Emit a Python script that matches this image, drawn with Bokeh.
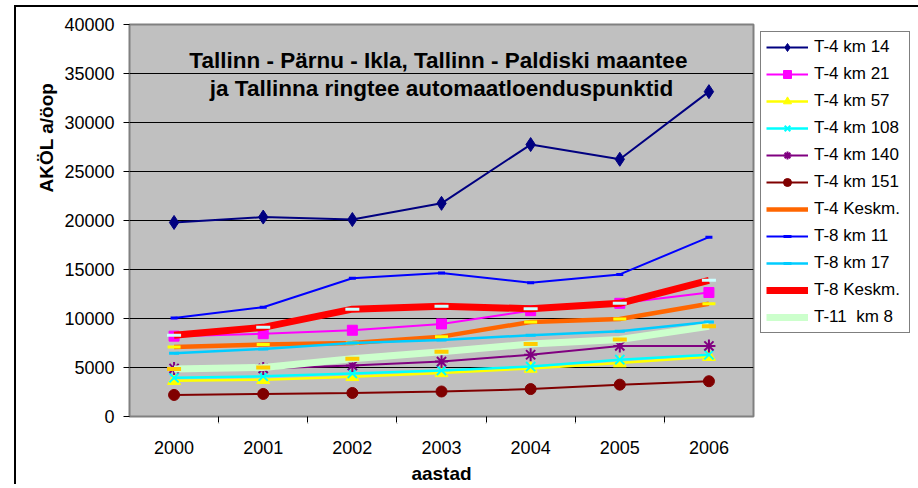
from bokeh.plotting import figure
from bokeh.embed import file_html
from bokeh.resources import INLINE
from bokeh.models import (FactorRange, Range1d, CategoricalAxis, FixedTicker,
                          Legend, LegendItem, Label, Title, ColumnDataSource)

# ---------------- data ----------------
years = ["2000", "2001", "2002", "2003", "2004", "2005", "2006"]

t4_km14 = [19800, 20350, 20100, 21750, 27750, 26250, 33150]
t4_km21 = [8200, 8450, 8800, 9450, 10800, 11550, 12650]
t4_km57 = [3650, 3750, 4050, 4450, 4900, 5450, 6100]
t4_km108 = [3950, 4100, 4400, 4700, 5100, 5800, 6300]
t4_km140 = [4900, 4900, 5200, 5600, 6300, 7200, 7200]
t4_km151 = [2200, 2300, 2400, 2550, 2800, 3250, 3600]
t4_keskm = [7100, 7350, 7500, 8150, 9650, 9950, 11500]
t8_km11 = [10050, 11150, 14100, 14650, 13650, 14500, 18300]
t8_km17 = [6450, 6900, 7500, 7800, 8300, 8700, 9650]
t8_keskm = [8300, 9100, 10950, 11250, 11000, 11550, 13900]
t11_km8 = [4850, 5000, 5900, 6600, 7400, 7850, 9200]

series_names = ["T-4 km 14", "T-4 km 21", "T-4 km 57", "T-4 km 108", "T-4 km 140",
                "T-4 km 151", "T-4 Keskm.", "T-8 km 11", "T-8 km 17", "T-8 Keskm.",
                "T-11  km 8"]

y_ticks = [0, 5000, 10000, 15000, 20000, 25000, 30000, 35000, 40000]
title_line1 = "Tallinn - Pärnu - Ikla,  Tallinn - Paldiski maantee"
title_line2 = "ja Tallinna ringtee automaatloenduspunktid"
y_title = "AKÖL a/öop"
x_title = "aastad"

FONT = "Liberation Sans"

# ---------------- figure ----------------
p = figure(x_range=FactorRange(*years), y_range=Range1d(0, 40000),
           frame_width=624, frame_height=392, output_backend="svg", toolbar_location=None,
           x_axis_location=None,
           min_border_left=113, min_border_right=0, min_border_top=17, min_border_bottom=64,
           margin=(7, 0, 0, 16))
p.styles = {"box-shadow": "-2px -2px 0px 0px black"}
p.background_fill_color = "#C0C0C0"
p.border_fill_color = "white"
p.outline_line_color = "#808080"
p.outline_line_width = 2

p.xgrid.visible = False
p.ygrid.grid_line_color = "black"
p.ygrid.grid_line_width = 1
p.ygrid.ticker = FixedTicker(ticks=y_ticks)

yax = p.yaxis[0]
yax.ticker = FixedTicker(ticks=y_ticks)
yax.major_label_text_font = FONT
yax.major_label_text_font_size = "18px"
yax.major_label_text_color = "black"
yax.major_tick_out = 6
yax.major_tick_in = 0
yax.minor_tick_out = 0
yax.minor_tick_in = 0
yax.major_label_standoff = 9
yax.axis_line_color = "#808080"
yax.major_tick_line_color = "black"

# y axis title, placed higher than the frame centre as in the reference
p.add_layout(Title(text=y_title, align="left", offset=224, text_font=FONT,
                   text_font_size="19px", text_font_style="bold", text_color="black"), "left")

# boundary tick marks on x: an extra factor range whose factor centres sit on the category edges
edge_factors = ["e%d" % i for i in range(len(years) + 1)]
p.extra_x_ranges = {"edges": FactorRange(*edge_factors, range_padding=-0.5,
                                         range_padding_units="absolute")}
tick_axis = CategoricalAxis(x_range_name="edges",
                            major_label_overrides={f: "" for f in edge_factors},
                            major_label_text_font_size="1px", major_label_standoff=0,
                            major_tick_out=6, major_tick_in=0,
                            axis_line_color="#808080", major_tick_line_color="black")
p.add_layout(tick_axis, "below")

cat_axis = CategoricalAxis(major_tick_line_color=None, major_tick_out=0, major_tick_in=0,
                           axis_line_color=None, major_label_standoff=14,
                           major_label_text_font=FONT, major_label_text_font_size="18px",
                           major_label_text_color="black",
                           axis_label=x_title, axis_label_text_font=FONT,
                           axis_label_text_color="black",
                           axis_label_text_font_size="19px", axis_label_text_font_style="bold",
                           axis_label_standoff=6)
p.add_layout(cat_axis, "below")

# ---------------- series ----------------
styles = [
    dict(data=t4_km14, color="#000080", lw=2, marker="diamond", size=14, mlw=1),
    dict(data=t4_km21, color="#FF00FF", lw=2, marker="square", size=10, mlw=1),
    dict(data=t4_km57, color="#FFFF00", lw=2.5, marker="triangle", size=13, mlw=1),
    dict(data=t4_km108, color="#00FFFF", lw=2.5, marker="x", size=13, mlw=2),
    dict(data=t4_km140, color="#800080", lw=2, marker="asterisk", size=13, mlw=2),
    dict(data=t4_km151, color="#800000", lw=2, marker="circle", size=11, mlw=1),
    dict(data=t4_keskm, color="#FF6600", lw=4.5, marker="dash", size=13, mlw=3, mcolor="#FFFF00", legend_marker=False),
    dict(data=t8_km11, color="#0000FF", lw=2, marker="dash", size=7, mlw=3, mcolor="#0000FF", legend_marker=True),
    dict(data=t8_km17, color="#00CCFF", lw=2.5, marker="dash", size=10, mlw=3, mcolor="#00CCFF", legend_marker=True),
    dict(data=t8_keskm, color="#FF0000", lw=7, marker="dash", size=14, mlw=3, mcolor="#CCFFFF", legend_marker=False),
    dict(data=t11_km8, color="#CCFFCC", lw=7, marker="dash", size=14, mlw=4, mcolor="#FFCC00", legend_marker=False),
]

items = []
for name, st in zip(series_names, styles):
    src = ColumnDataSource(dict(x=years, y=st["data"]))
    lr = p.line("x", "y", source=src, line_color=st["color"], line_width=st["lw"])
    mcol = st.get("mcolor", st["color"])
    mr = p.scatter("x", "y", source=src, marker=st["marker"], size=st["size"],
                   fill_color=mcol, line_color=mcol, line_width=st["mlw"])
    rends = [lr]
    if st.get("legend_marker", True):
        rends.append(mr)
    items.append(LegendItem(label=name, renderers=rends))

legend = Legend(items=items, location="top_left", orientation="vertical",
                background_fill_color="white", background_fill_alpha=1,
                border_line_color="black", border_line_width=1,
                label_text_font=FONT, label_text_font_size="17px", label_text_color="black",
                glyph_width=42, glyph_height=20, label_height=20, label_width=90,
                label_standoff=6, spacing=7, padding=5, margin=7)
p.add_layout(legend, "right")

# ---------------- chart title (inside plot area) ----------------
p.add_layout(Label(x=3.5, y=36330, text=title_line1, text_align="center", text_baseline="middle",
                   text_font=FONT, text_font_size="22.5px", text_font_style="bold", text_color="black"))
p.add_layout(Label(x=3.5, y=33470, text=title_line2, text_align="center", text_baseline="middle",
                   text_font=FONT, text_font_size="22.5px", text_font_style="bold", text_color="black"))

open("out.html", "w").write(file_html(p, INLINE))
